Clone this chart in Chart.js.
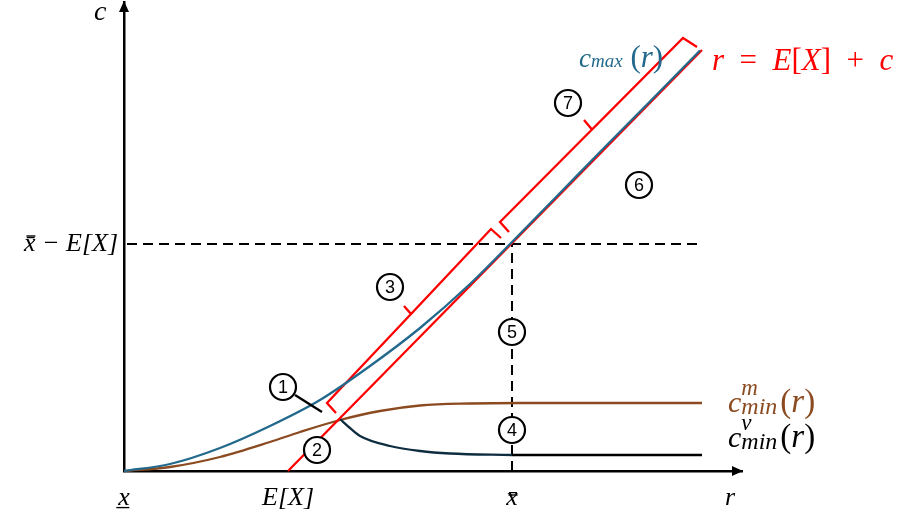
<!DOCTYPE html>
<html>
<head>
<meta charset="utf-8">
<script src="https://cdn.jsdelivr.net/npm/chart.js@4.4.0/dist/chart.umd.min.js"></script>
<style>
  body { margin: 0; background: #fff; }
</style>
</head>
<body>
<canvas id="chart" width="900" height="523"></canvas>
<script>
// symbolic ticks on the two axes
const xTickValues = [0, 164, 388, 606];
const xTickLabels = ['x̲', 'E[X]', 'x̄', 'r'];
const yTickValues = [227];
const yTickLabels = ['x̄ − E[X]'];

// c_max(r) (blue)
const cMaxX = [0, 46, 96, 146, 196, 246, 296, 346, 388, 436, 476, 526, 576];
const cMaxY = [0, 7, 23, 45, 71, 105, 143, 187, 229, 278, 319, 369.5, 420.5];

// c^m_min(r) (brown)
const cMinMX = [0, 46, 96, 146, 176, 216, 256, 296, 346, 396, 578];
const cMinMY = [0, 4, 14, 29, 39, 51, 60, 65.5, 67.5, 68, 68];

// c^v_min(r): curved part then flat part
const cMinVX = [216, 226, 236, 266, 296, 326, 388];
const cMinVY = [52, 43, 35, 25, 20, 17.5, 16];
const cMinVFlatX = [388, 578];
const cMinVFlatY = [16, 16];

// r = E[X] + c
const diagX = [164, 578];
const diagY = [0, 421];

// x̄ - E[X] guide lines
const hGuideX = [3, 579];
const hGuideY = [227, 227];
const vGuideX = [388, 388];
const vGuideY = [0, 227];

// brackets 3 and 7 (with hooks and middle tick)
const brace3X = [212, 203, 287, 280, 287, 367, 377];
const brace3Y = [58, 68, 157, 165, 157, 242, 233];
const brace7X = [385, 376, 468, 460, 468, 559, 573];
const brace7Y = [239, 249, 341.5, 351, 341.5, 433, 424];

// leader from marker 1
const leaderX = [171, 198];
const leaderY = [76, 59];

// numbered markers
const markerX = [159, 193, 266, 388, 388, 515, 444];
const markerY = [84, 21, 184, 41, 139, 286, 368];
const markerLabels = ['1', '2', '3', '4', '5', '6', '7'];

const BLUE = '#22698c';
const BROWN = '#8b4a1f';
const NAVY = '#0f2d40';
const RED = '#ff0000';
const SERIF = "'Liberation Serif', 'DejaVu Serif', serif";

function pts(xs, ys) {
    return xs.map((v, i) => ({ x: v, y: ys[i] }));
}

function lineSet(xs, ys, color, extra) {
    return Object.assign({
        data: pts(xs, ys),
        showLine: true,
        borderColor: color,
        borderWidth: 2.3,
        pointRadius: 0,
        fill: false,
        tension: 0,
        clip: false
    }, extra || {});
}

// draw a run of text pieces one after another
function drawParts(ctx, x, y, parts, color) {
    ctx.fillStyle = color;
    ctx.textBaseline = 'alphabetic';
    ctx.textAlign = 'left';
    parts.forEach(p => {
        ctx.font = (p.italic ? 'italic ' : '') + p.size + 'px ' + SERIF;
        ctx.fillText(p.t, x, y);
        x += ctx.measureText(p.t).width;
    });
    return x;
}

// bar over an x (the combining macron does not show in this font)
function macron(ctx, cx, top, w) {
    ctx.save();
    ctx.strokeStyle = '#000';
    ctx.lineWidth = 1.4;
    ctx.beginPath();
    ctx.moveTo(cx - w / 2, top);
    ctx.lineTo(cx + w / 2, top);
    ctx.stroke();
    ctx.restore();
}

const annotate = {
    id: 'annotate',
    afterDatasetsDraw(chart) {
        const ctx = chart.ctx;
        const xs = chart.scales.x, ys = chart.scales.y;
        const px = v => xs.getPixelForValue(v);
        const py = v => ys.getPixelForValue(v);
        ctx.save();

        // marker numbers
        ctx.fillStyle = '#000';
        ctx.font = "18px 'Liberation Sans', Arial, sans-serif";
        ctx.textAlign = 'center';
        ctx.textBaseline = 'middle';
        markerLabels.forEach((t, i) => ctx.fillText(t, px(markerX[i]), py(markerY[i]) + 1));

        // c axis tick label
        ctx.font = 'italic 26px ' + SERIF;
        ctx.textAlign = 'right';
        ctx.textBaseline = 'middle';
        yTickValues.forEach((v, i) => {
            const yy = py(v);
            ctx.fillText(yTickLabels[i], ys.right - 6, yy);
            const w = ctx.measureText(yTickLabels[i]).width;
            macron(ctx, ys.right - 6 - w + 7, yy - 8, 9);
        });

        // axis name for c
        drawParts(ctx, px(-30), py(451), [{ t: 'c', size: 28, italic: true }], '#000');

        // c_max(r)
        drawParts(ctx, px(455), py(404), [
            { t: 'c', size: 27, italic: true },
            { t: 'max', size: 19, italic: true },
            { t: ' (', size: 31 },
            { t: 'r', size: 31, italic: true },
            { t: ')', size: 31 }
        ], BLUE);

        // r = E[X] + c
        drawParts(ctx, px(588), py(401), [
            { t: 'r', size: 31, italic: true },
            { t: '  =  ', size: 31 },
            { t: 'E', size: 31, italic: true },
            { t: '[', size: 31 },
            { t: 'X', size: 31, italic: true },
            { t: ']', size: 31 },
            { t: '  +  ', size: 31 },
            { t: 'c', size: 31, italic: true }
        ], RED);

        // c^m_min(r) and c^v_min(r)
        const minLabel = (sup, yv, color) => {
            const x0 = px(604), y0 = py(yv);
            const x1 = drawParts(ctx, x0, y0, [{ t: 'c', size: 30, italic: true }], color);
            drawParts(ctx, x1, y0 - 17, [{ t: sup, size: 23, italic: true }], color);
            const x2 = drawParts(ctx, x1, y0 + 2, [{ t: 'min', size: 24, italic: true }], color);
            drawParts(ctx, x2 + 3, y0, [
                { t: '(', size: 33 },
                { t: 'r', size: 33, italic: true },
                { t: ')', size: 33 }
            ], color);
        };
        minLabel('m', 59, BROWN);
        minLabel('v', 24, '#000');

        ctx.restore();
    },
    afterDraw(chart) {
        const ctx = chart.ctx;
        const a = chart.chartArea;
        const ox = chart.scales.x.getPixelForValue(0);
        const oy = chart.scales.y.getPixelForValue(0);
        ctx.save();
        ctx.fillStyle = '#000';
        // arrow on r axis
        ctx.beginPath();
        ctx.moveTo(a.right + 1, oy);
        ctx.lineTo(a.right - 10, oy - 5);
        ctx.lineTo(a.right - 10, oy + 5);
        ctx.closePath();
        ctx.fill();
        // arrow on c axis
        ctx.beginPath();
        ctx.moveTo(ox, a.top - 1);
        ctx.lineTo(ox - 5, a.top + 10);
        ctx.lineTo(ox + 5, a.top + 10);
        ctx.closePath();
        ctx.fill();

        // bar for x̄ under the r axis
        macron(ctx, chart.scales.x.getPixelForValue(388) + 1, 495, 9);
        ctx.restore();
    }
};

const ctx = document.getElementById('chart').getContext('2d');
new Chart(ctx, {
    type: 'scatter',
    data: {
        datasets: [
            {
                data: pts(markerX, markerY),
                pointRadius: 13,
                pointBackgroundColor: '#fff',
                pointBorderColor: '#000',
                pointBorderWidth: 2.2,
                showLine: false,
                clip: false
            },
            lineSet(leaderX, leaderY, '#000'),
            lineSet(cMaxX, cMaxY, BLUE, { cubicInterpolationMode: 'monotone' }),
            lineSet(diagX, diagY, RED),
            lineSet(brace3X, brace3Y, RED),
            lineSet(brace7X, brace7Y, RED),
            lineSet(cMinVX, cMinVY, NAVY, { cubicInterpolationMode: 'monotone' }),
            lineSet(cMinVFlatX, cMinVFlatY, '#000'),
            lineSet(cMinMX, cMinMY, BROWN, { cubicInterpolationMode: 'monotone' }),
            lineSet(hGuideX, hGuideY, '#000', { borderDash: [10, 6], borderWidth: 2 }),
            lineSet(vGuideX, vGuideY, '#000', { borderDash: [10, 6], borderWidth: 2 })
        ]
    },
    options: {
        responsive: false,
        animation: false,
        devicePixelRatio: 1,
        layout: { autoPadding: false, padding: { left: 0, right: 158, top: 2, bottom: 0 } },
        plugins: {
            legend: { display: false },
            tooltip: { enabled: false }
        },
        scales: {
            x: {
                type: 'linear',
                min: 0,
                max: 618,
                grid: { display: false, drawTicks: false },
                border: { display: true, color: '#000', width: 2.5 },
                afterFit: s => { s.height = 52; },
                afterBuildTicks: s => { s.ticks = xTickValues.map(v => ({ value: v })); },
                ticks: {
                    autoSkip: false,
                    maxRotation: 0,
                    padding: 12,
                    color: '#000',
                    font: { family: SERIF, style: 'italic', size: 26 },
                    callback: (v, i) => xTickLabels[i]
                }
            },
            y: {
                type: 'linear',
                min: 0,
                max: 469,
                grid: { display: false, drawTicks: false },
                border: { display: true, color: '#000', width: 2.5 },
                afterFit: s => { s.width = 124; },
                afterBuildTicks: s => { s.ticks = yTickValues.map(v => ({ value: v })); },
                ticks: { display: false }
            }
        }
    },
    plugins: [annotate]
});
</script>
</body>
</html>
